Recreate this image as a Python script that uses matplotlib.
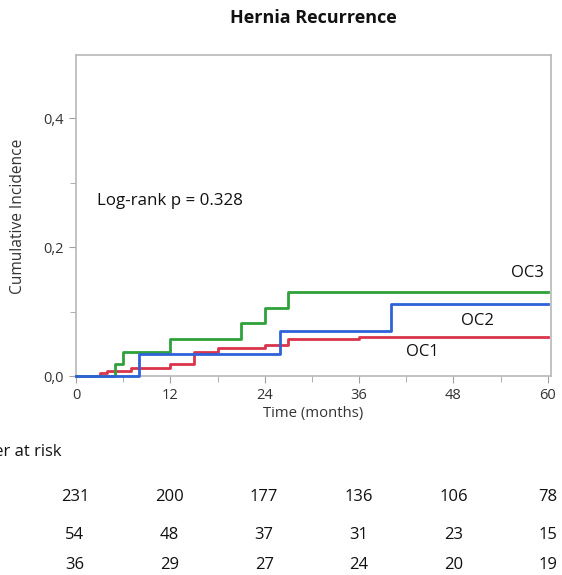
import matplotlib
matplotlib.use("Agg")
import matplotlib.pyplot as plt
from matplotlib.ticker import MultipleLocator, FuncFormatter

plt.rcParams['font.family'] = ['Open Sans', 'DejaVu Sans']

# Data
oc1_t = [0, 3, 4, 7, 12, 15, 18, 24, 27, 36, 60]
oc1_v = [0, 0.004, 0.008, 0.013, 0.018, 0.037, 0.043, 0.048, 0.057, 0.061, 0.061]
oc2_t = [0, 8, 26, 40, 60]
oc2_v = [0, 0.034, 0.070, 0.111, 0.111]
oc3_t = [0, 5, 6, 12, 21, 24, 27, 60]
oc3_v = [0, 0.019, 0.038, 0.058, 0.083, 0.106, 0.131, 0.131]

group_labels = ["OC1", "OC2", "OC3"]
risk_rows = [
    [231, 200, 177, 136, 106, 78],
    [54, 48, 37, 31, 23, 15],
    [36, 29, 27, 24, 20, 19],
]

W, H = 562, 575
fig = plt.figure(figsize=(W / 100, H / 100), dpi=100)
ax = fig.add_axes([76 / W, 1 - 376 / H, (551 - 76) / W, (376 - 55) / H])

red = "#d9344a"
blue = "#2f62d8"
green = "#2ea23a"
ax.step(oc1_t, oc1_v, where="post", color=red, lw=2, clip_on=False, zorder=3)
ax.step(oc3_t, oc3_v, where="post", color=green, lw=2, clip_on=False, zorder=3)
ax.step(oc2_t, oc2_v, where="post", color=blue, lw=2, clip_on=False, zorder=4)

ax.set_xlim(0, 60.4)
ax.set_ylim(0, 0.498)
ax.xaxis.set_major_locator(MultipleLocator(12))
ax.xaxis.set_minor_locator(MultipleLocator(6))
ax.yaxis.set_major_locator(MultipleLocator(0.2))
ax.yaxis.set_minor_locator(MultipleLocator(0.1))
ax.yaxis.set_major_formatter(FuncFormatter(lambda v, p: f"{v:.1f}".replace(".", ",")))

for s in ax.spines.values():
    s.set_color("#b8b8b8")
    s.set_linewidth(1.2)
ax.tick_params(which="both", direction="out", color="#a0a0a0", labelsize=10.5,
               labelcolor="#333333")
ax.tick_params(which="major", length=5)
ax.tick_params(which="minor", length=4)

ax.set_xlabel("Time (months)", fontsize=10.7, color="#333333", labelpad=2)
fig.text(18 / W, 1 - 216 / H, "Cumulative Incidence", rotation=90, fontsize=11.2,
         color="#333333", ha="center", va="center")

fig.text(313 / W, 1 - 18 / H, "Hernia Recurrence", fontsize=13, fontweight="bold",
         ha="center", va="center", color="#111111")

fig.text(97 / W, 1 - 201 / H, "Log-rank p = 0.328", fontsize=12.2, ha="left",
         va="center", color="#111111")

# curve labels
fig.text(527 / W, 1 - 273 / H, group_labels[2], fontsize=12, ha="center", va="center",
         color="#111111")
fig.text(477 / W, 1 - 321 / H, group_labels[1], fontsize=12, ha="center", va="center",
         color="#111111")
fig.text(422 / W, 1 - 352 / H, group_labels[0], fontsize=12, ha="center", va="center",
         color="#111111")

# number at risk (cut at the left edge, as in the reference)
fig.text(62 / W, 1 - 452 / H, "Number at risk", fontsize=12, ha="right", va="center",
         color="#111111")

row_y = [497, 535, 565]
col_x = [75 + 94.6 * i for i in range(6)]
for r, row in enumerate(risk_rows):
    for c, val in enumerate(row):
        fig.text(col_x[c] / W, 1 - row_y[r] / H, str(val), fontsize=12, ha="center",
                 va="center", color="#111111")

fig.savefig("out.png", dpi=100)
